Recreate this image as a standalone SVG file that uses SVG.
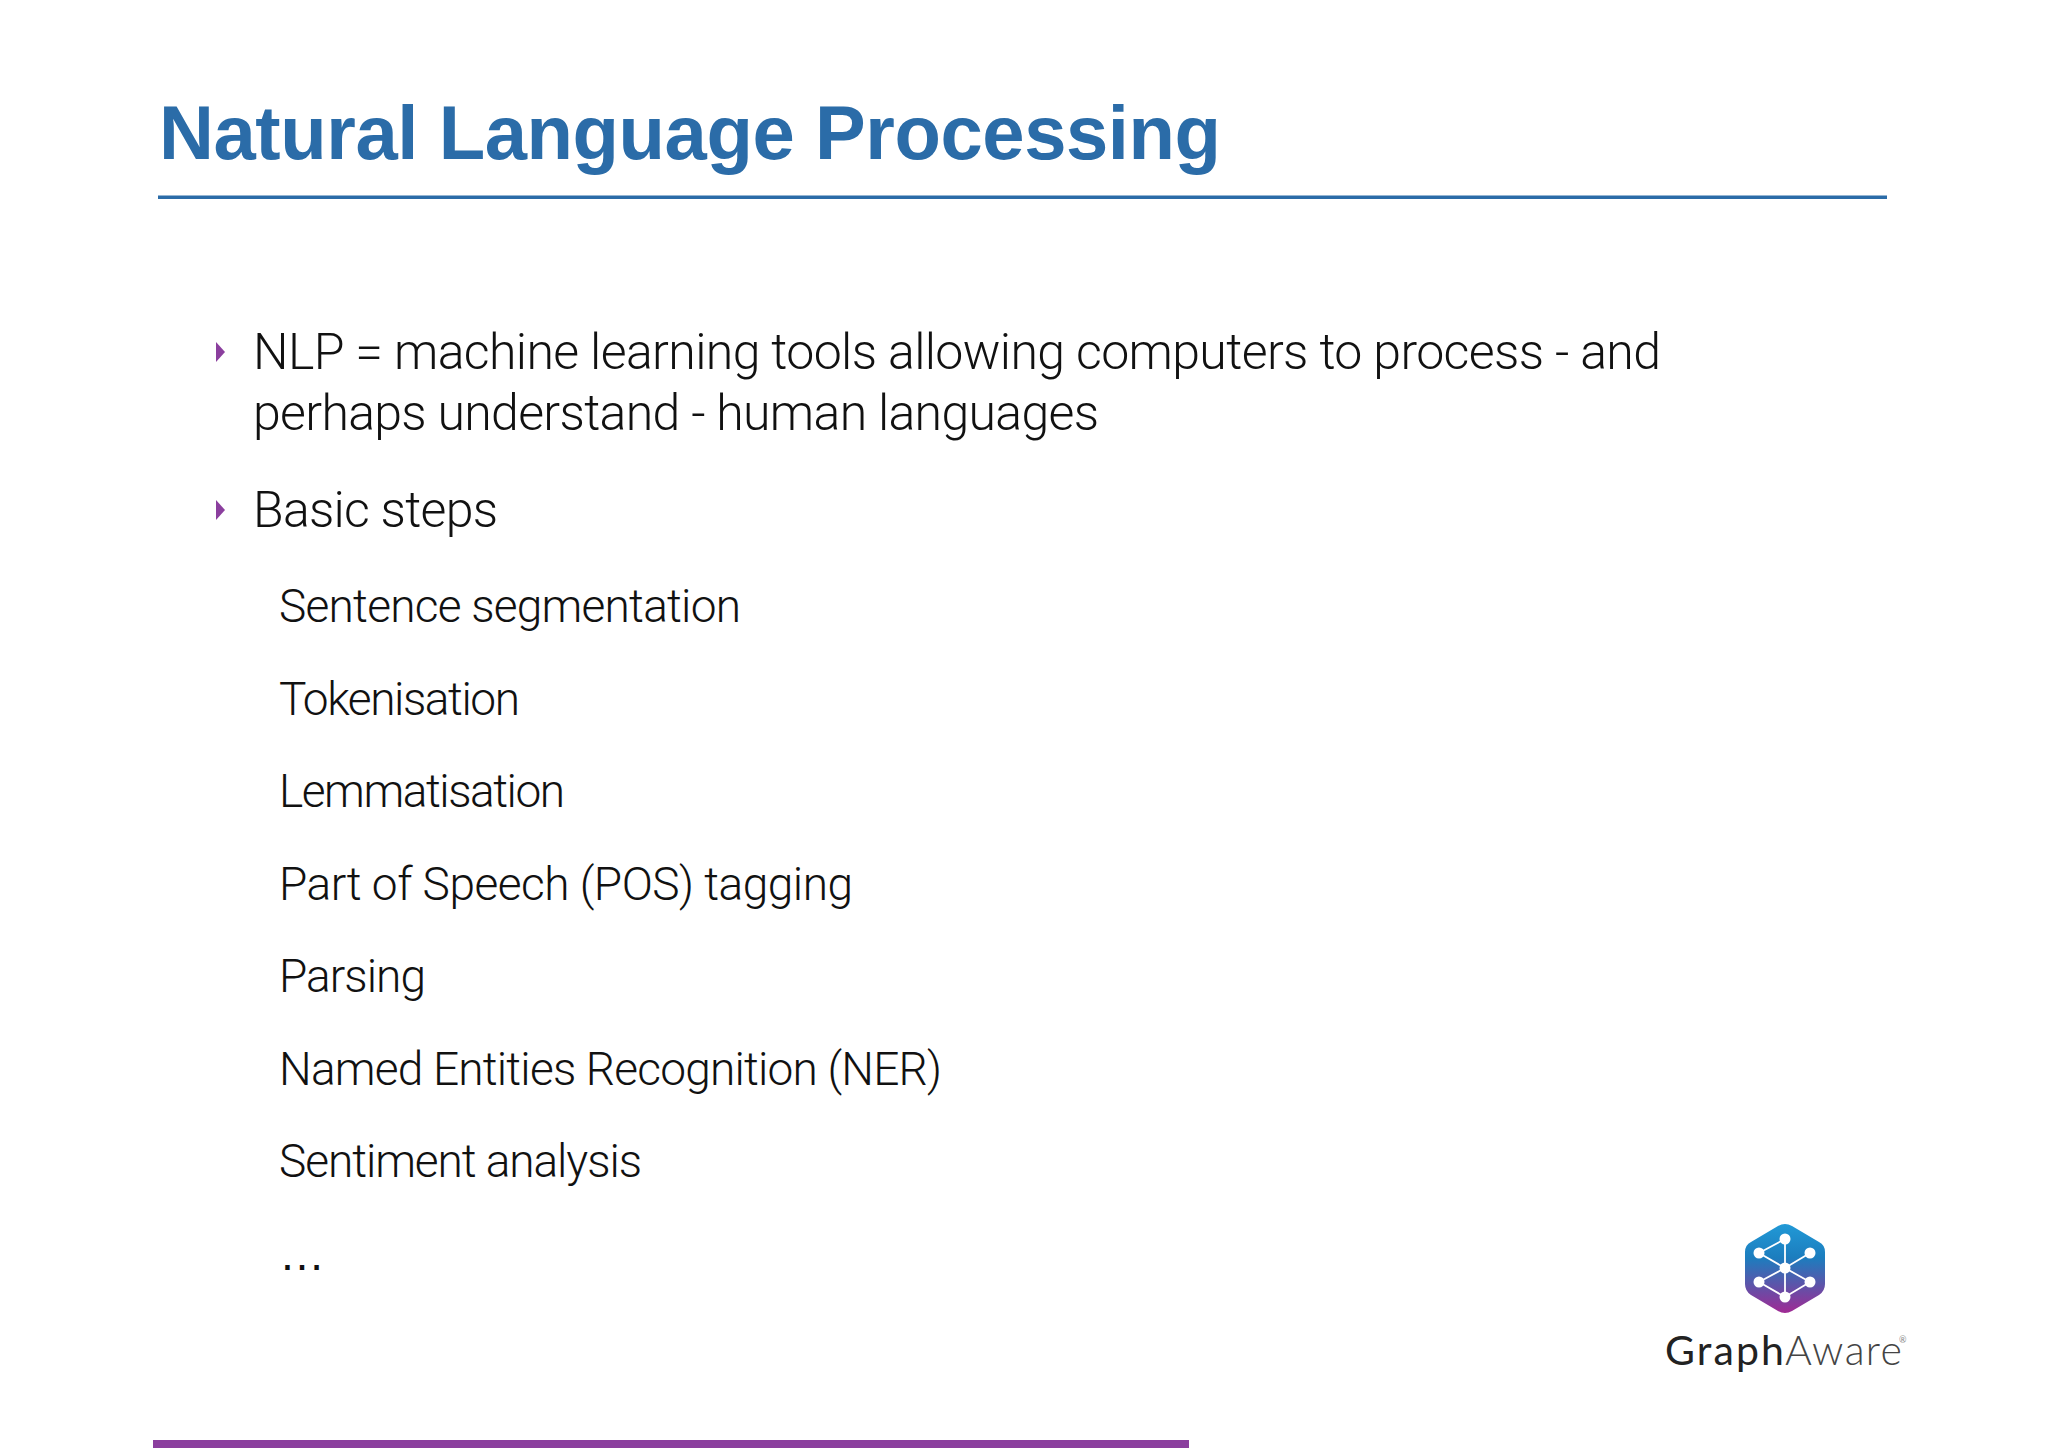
<svg xmlns="http://www.w3.org/2000/svg" width="2048" height="1448" viewBox="0 0 2048 1448">
<style>
text{font-family:"Roboto","Liberation Sans",sans-serif;fill:#111}
.title{font-family:"Liberation Sans",Arial,sans-serif;font-weight:700;font-size:76px;fill:#2B6CA8}
.b{font-weight:300;font-size:50px}
.s{font-weight:300;font-size:46px}
.bul{fill:#8B3F9E}
.lg{stroke:#fff;stroke-width:1.8;fill:none}
.nd{fill:#fff}
</style>
<defs><linearGradient id="hex" x1="0" y1="0" x2="0" y2="1"><stop offset="0" stop-color="#2199D6"/><stop offset="0.38" stop-color="#1C7DBE"/><stop offset="1" stop-color="#A02A94"/></linearGradient></defs>
<rect width="2048" height="1448" fill="#fff"/>
<g id="title"><text class="title" x="159" y="159" textLength="1062">Natural Language Processing</text></g>
<rect id="rule" x="158" y="195.500" width="1729" height="3.500" fill="#2B6CA8"/>
<g id="bullets">
<polygon class="bul" points="216,342 225,352 216,362"/>
<polygon class="bul" points="216,500 225,510 216,520"/>
<text class="b" x="253" y="369" textLength="1408">NLP = machine learning tools allowing computers to process - and</text>
<text class="b" x="253" y="430" textLength="846">perhaps understand - human languages</text>
<text class="b" x="253" y="527" textLength="245">Basic steps</text>
</g>
<g id="steps">
<text class="s" x="279" y="622" textLength="462">Sentence segmentation</text>
<text class="s" x="279" y="715" textLength="241">Tokenisation</text>
<text class="s" x="279" y="807" textLength="286">Lemmatisation</text>
<text class="s" x="279" y="900" textLength="574">Part of Speech (POS) tagging</text>
<text class="s" x="279" y="992" textLength="147">Parsing</text>
<text class="s" x="279" y="1085" textLength="663">Named Entities Recognition (NER)</text>
<text class="s" x="279" y="1177" textLength="363">Sentiment analysis</text>
<text x="279" y="1270" style="font-family:'Liberation Sans',sans-serif;font-size:46px">…</text>
</g>
<g id="logo">
<path d="M1778 1226Q1785 1222 1792 1226L1819 1242Q1825 1245 1825 1252V1284Q1825 1291 1819 1295L1792 1311Q1785 1315 1778 1311L1751 1295Q1745 1291 1745 1284V1252Q1745 1245 1751 1242Z" fill="url(#hex)"/>
<path class="lg" d="M1759 1253L1785 1239V1297M1759 1253L1785 1268L1810 1253M1759 1282L1785 1268L1810 1282L1785 1297L1759 1282"/>
<circle class="nd" cx="1785" cy="1239" r="5.500"/><circle class="nd" cx="1759" cy="1253" r="5.500"/><circle class="nd" cx="1810" cy="1253" r="5.500"/><circle class="nd" cx="1785" cy="1268" r="5.500"/><circle class="nd" cx="1759" cy="1282" r="5.500"/><circle class="nd" cx="1810" cy="1282" r="5.500"/><circle class="nd" cx="1785" cy="1297" r="5.500"/>
<text x="1665" y="1365" textLength="119" style="font-family:Lato,sans-serif;font-weight:400;font-size:41px;fill:#222">Graph</text>
<text x="1785" y="1365" textLength="117" style="font-family:Lato,sans-serif;font-weight:300;font-size:41px;fill:#444">Aware</text>
<text x="1899" y="1343" style="font-family:Lato,sans-serif;font-size:9px;fill:#888">®</text>
</g>
<rect id="bar" x="153" y="1440" width="1036" height="8" fill="#8B3F9E"/>
</svg>
